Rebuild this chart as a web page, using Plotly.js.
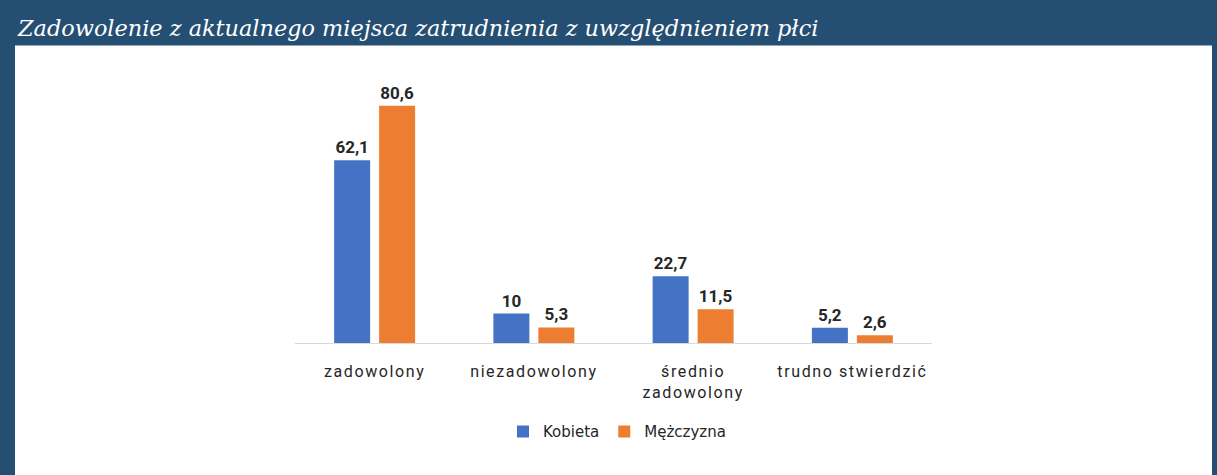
<!DOCTYPE html>
<html>
<head>
<meta charset="utf-8">
<script src="https://cdn.plot.ly/plotly-3.0.1.min.js"></script>
<style>
html,body{margin:0;padding:0;background:#244f72;}
#chart{width:1217px;height:475px;}
#chart .xtick text{letter-spacing:1.6px;}
</style>
</head>
<body>
<div id="chart"></div>
<script>
const categories = ['zadowolony', 'niezadowolony', 'średnio<br>zadowolony', 'trudno stwierdzić'];
const kobieta = [62.1, 10, 22.7, 5.2];
const mezczyzna = [80.6, 5.3, 11.5, 2.6];
const seriesNames = ['Kobieta', 'Mężczyzna'];
const chartTitle = 'Zadowolenie z aktualnego miejsca zatrudnienia z uwzględnieniem płci';

const fmt = v => String(v).replace('.', ',');
const labelFont = {family: 'Roboto, "Noto Sans", sans-serif', size: 17, color: '#262626', weight: 700};

const traces = [
  {type: 'bar', name: seriesNames[0], x: categories, y: kobieta,
   text: kobieta.map(fmt), textposition: 'outside', textfont: labelFont, cliponaxis: false,
   marker: {color: '#4472c4'}, hoverinfo: 'skip'},
  {type: 'bar', name: seriesNames[1], x: categories, y: mezczyzna,
   text: mezczyzna.map(fmt), textposition: 'outside', textfont: labelFont, cliponaxis: false,
   marker: {color: '#ed7d31'}, hoverinfo: 'skip'}
];

const layout = {
  width: 1217, height: 475,
  margin: {l: 295, r: 285, t: 77.5, b: 132, pad: 0},
  paper_bgcolor: '#244f72',
  plot_bgcolor: 'rgba(0,0,0,0)',
  barmode: 'group',
  bargap: 0.435,
  bargroupgap: 0.2,
  showlegend: true,
  title: {
    text: chartTitle,
    font: {family: '"DejaVu Serif", serif', size: 22.4, color: '#ffffff', style: 'italic'},
    x: 18/1217, xanchor: 'left', xref: 'container',
    y: 1 - 28/475, yanchor: 'middle', yref: 'container'
  },
  shapes: [{
    type: 'rect', xref: 'paper', yref: 'paper', layer: 'below',
    x0: (15-295)/637, x1: (1212-295)/637,
    y0: -0.6, y1: (343-45)/265.5,
    fillcolor: '#ffffff', line: {width: 0}
  }],
  xaxis: {
    showline: true, linecolor: '#d9d9d9', linewidth: 1,
    ticks: '', showgrid: false, zeroline: false,
    tickfont: {family: 'Roboto, "Noto Sans", sans-serif', size: 16, color: '#262626'},
    ticklabelstandoff: 14
  },
  yaxis: {
    range: [0, 90], visible: false, showgrid: false, zeroline: false
  },
  legend: {
    orientation: 'h', x: (617-295)/637, xanchor: 'center',
    y: (343-432)/265.5, yanchor: 'middle',
    font: {family: '"DejaVu Sans", sans-serif', size: 15, color: '#262626'},
    itemwidth: 30, bgcolor: 'rgba(0,0,0,0)'
  },
  font: {family: 'Roboto, sans-serif'}
};

Plotly.newPlot('chart', traces, layout, {displayModeBar: false, staticPlot: true});
</script>
</body>
</html>
